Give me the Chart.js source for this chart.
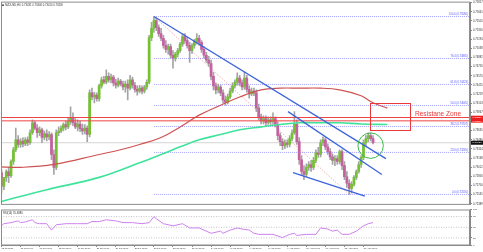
<!DOCTYPE html>
<html><head><meta charset="utf-8">
<script src="https://cdn.jsdelivr.net/npm/chart.js@4.4.1/dist/chart.umd.min.js"></script>
<style>
html,body{margin:0;padding:0;background:#fff;}
#wrap{position:relative;width:483px;height:252px;overflow:hidden;background:#fff}
#main{position:absolute;left:0;top:0}
#rsi{position:absolute;left:0;top:207px}
</style></head><body>
<div id="wrap"><canvas id="main" width="483" height="207"></canvas><canvas id="rsi" width="483" height="45"></canvas></div>
<script>
// ---- candle data (NZDUSD H4, bar index 0 = 12 Jul 2017 08:00) ----
const openP = [.7292,.7269,.7284,.7294,.7287,.7311,.7331,.7348,.7340,.7346,
.7341,.7348,.7343,.7360,.7377,.7368,.7360,.7365,.7352,.7358,
.7353,.7357,.7323,.7301,.7360,.7363,.7368,.7374,.7370,.7379,
.7385,.7377,.7370,.7375,.7367,.7363,.7368,.7357,.7428,.7421,
.7424,.7418,.7440,.7450,.7446,.7456,.7450,.7455,.7445,.7441,
.7448,.7443,.7438,.7443,.7436,.7450,.7441,.7434,.7431,.7436,
.7431,.7438,.7446,.7522,.7538,.7551,.7539,.7529,.7521,.7509,
.7502,.7507,.7492,.7487,.7494,.7500,.7511,.7524,.7517,.7509,
.7500,.7509,.7516,.7521,.7514,.7502,.7492,.7484,.7478,.7456,
.7440,.7433,.7438,.7428,.7416,.7412,.7421,.7431,.7440,.7446,
.7453,.7445,.7438,.7453,.7434,.7426,.7431,.7428,.7402,.7387,
.7380,.7384,.7377,.7382,.7379,.7384,.7374,.7355,.7345,.7338,
.7343,.7340,.7350,.7360,.7375,.7345,.7314,.7294,.7289,.7301,
.7306,.7301,.7313,.7326,.7323,.7343,.7348,.7336,.7328,.7319,
.7313,.7316,.7311,.7328,.7304,.7285,.7274,.7265,.7272,.7284,
.7294,.7306,.7318,.7343,.7350,.7355,.7350];
const highP = [.7297,.7275,.7297,.7301,.7314,.7335,.7368,.7355,.7350,.7352,
.7352,.7353,.7365,.7382,.7380,.7374,.7370,.7368,.7363,.7365,
.7362,.7360,.7331,.7365,.7370,.7372,.7377,.7380,.7385,.7404,
.7394,.7384,.7382,.7380,.7375,.7374,.7372,.7433,.7436,.7429,
.7428,.7443,.7455,.7456,.7467,.7462,.7460,.7458,.7451,.7453,
.7451,.7448,.7448,.7450,.7458,.7455,.7446,.7440,.7441,.7440,
.7441,.7450,.7526,.7548,.7558,.7556,.7544,.7538,.7526,.7517,
.7511,.7511,.7500,.7497,.7504,.7514,.7529,.7529,.7522,.7514,
.7512,.7519,.7529,.7526,.7517,.7507,.7497,.7490,.7484,.7463,
.7445,.7443,.7441,.7433,.7423,.7426,.7436,.7445,.7450,.7462,
.7458,.7450,.7463,.7458,.7440,.7436,.7436,.7433,.7409,.7392,
.7389,.7389,.7387,.7387,.7394,.7387,.7379,.7360,.7350,.7348,
.7348,.7355,.7365,.7396,.7382,.7352,.7321,.7304,.7307,.7311,
.7313,.7318,.7331,.7335,.7348,.7353,.7352,.7341,.7333,.7324,
.7321,.7321,.7331,.7331,.7311,.7294,.7280,.7277,.7287,.7297,
.7311,.7321,.7348,.7355,.7360,.7360,.7355];
const lowP = [.7258,.7263,.7277,.7275,.7284,.7306,.7328,.7335,.7335,.7336,
.7338,.7338,.7340,.7357,.7365,.7352,.7355,.7343,.7348,.7346,
.7348,.7314,.7289,.7297,.7355,.7360,.7363,.7365,.7367,.7374,
.7372,.7367,.7363,.7362,.7357,.7358,.7345,.7353,.7416,.7411,
.7414,.7414,.7436,.7443,.7443,.7446,.7445,.7440,.7436,.7438,
.7440,.7433,.7429,.7416,.7433,.7436,.7429,.7424,.7428,.7426,
.7428,.7434,.7443,.7517,.7531,.7534,.7524,.7517,.7504,.7497,
.7494,.7487,.7470,.7482,.7489,.7497,.7507,.7512,.7504,.7480,
.7495,.7504,.7511,.7509,.7497,.7487,.7480,.7473,.7450,.7433,
.7426,.7428,.7423,.7411,.7407,.7409,.7418,.7428,.7436,.7441,
.7440,.7433,.7434,.7429,.7419,.7423,.7423,.7396,.7382,.7375,
.7375,.7372,.7374,.7374,.7375,.7370,.7348,.7338,.7331,.7333,
.7335,.7336,.7346,.7357,.7340,.7306,.7287,.7280,.7285,.7296,
.7294,.7297,.7309,.7318,.7319,.7338,.7331,.7323,.7314,.7306,
.7304,.7306,.7307,.7297,.7280,.7267,.7255,.7257,.7269,.7280,
.7291,.7301,.7314,.7338,.7345,.7346,.7341];
const closeP = [.7269,.7284,.7294,.7287,.7311,.7331,.7348,.7340,.7346,.7341,
.7348,.7343,.7360,.7377,.7368,.7360,.7365,.7352,.7358,.7353,
.7357,.7323,.7301,.7360,.7363,.7368,.7374,.7370,.7379,.7385,
.7377,.7370,.7375,.7367,.7363,.7368,.7357,.7428,.7421,.7424,
.7418,.7440,.7450,.7446,.7456,.7450,.7455,.7445,.7441,.7448,
.7443,.7438,.7443,.7436,.7450,.7441,.7434,.7431,.7436,.7431,
.7438,.7446,.7522,.7538,.7551,.7539,.7529,.7521,.7509,.7502,
.7507,.7492,.7487,.7494,.7500,.7511,.7524,.7517,.7509,.7500,
.7509,.7516,.7521,.7514,.7502,.7492,.7484,.7478,.7456,.7440,
.7433,.7438,.7428,.7416,.7412,.7421,.7431,.7440,.7446,.7453,
.7445,.7438,.7453,.7434,.7426,.7431,.7428,.7402,.7387,.7380,
.7384,.7377,.7382,.7379,.7384,.7374,.7355,.7345,.7338,.7343,
.7340,.7350,.7360,.7375,.7345,.7314,.7294,.7289,.7301,.7306,
.7301,.7313,.7326,.7323,.7343,.7348,.7336,.7328,.7319,.7313,
.7316,.7311,.7328,.7304,.7285,.7274,.7265,.7272,.7284,.7294,
.7306,.7318,.7343,.7350,.7355,.7350,.7343];

// ---- moving averages (bar, price) ----
const maRedBars = [0, 8, 22, 41, 50, 58, 67, 75, 83, 92, 100, 109, 117, 125, 134, 142, 151, 156, 162];
const maRedVals = [.7302,.7301,.7306,.7323,.7331,.7340,.7352,.7370,.7390,.7407,.7421,.7433,.7436,.7436,.7436,.7433,.7423,.7411,.7402];
const maGreenBars = [0, 19, 41, 58, 67, 75, 83, 92, 100, 109, 117, 125, 134, 142, 151, 162];
const maGreenVals = [.7243,.7263,.7284,.7309,.7323,.7336,.7348,.7357,.7365,.7370,.7374,.7377,.7377,.7377,.7375,.7374];

// ---- trend lines (bar, price) ----
const trend1Bars = [64, 161.4], trend1Vals = [.7558, .7316];
const trend2Bars = [120.3, 159.7], trend2Vals = [.7396, .7289];
const trend3Bars = [122.4, 152.6], trend3Vals = [.7292, .7252];

// ---- fibonacci retracement ----
const fibStartBar = 64, fibEndBar = 146;
const fibLevels = [0.0, 23.6, 38.2, 50.0, 61.8, 76.4, 100.0];
const fibPrices = [0.72550, 0.73265, 0.73707, 0.74065, 0.74423, 0.74865, 0.75580];

// ---- resistance ----
const resLines = [0.73860, 0.73803];
const resBoxBars = [154.7, 171.5], resBoxPrices = [0.74110, 0.73650];
const resText = 'Resistane Zone', resTextBar = 173.6, resTextPrice = 0.7392;
const circleBar = 155, circlePrice = 0.7338;
const lastPrice = 0.73430;
const titleText = 'NZDUSD,H4  0.73431 0.73446 0.73410 0.73430';

// ---- axes ----
const priceTicks = [0.75817,0.75661,0.75505,0.75350,0.75194,0.75038,0.74882,0.74726,0.74570,0.74415,0.74259,0.74103,0.73947,0.73791,0.73635,0.73480,0.73324,0.73168,0.73012,0.72856,0.72700,0.72545,0.72389];
const xTickBars = [0,8,16,24,32,40,48,56,64,72,80,88,96,104,112,120,128,136,144,152];
const xTickLabels = ['12 Jul 2017','13 Jul 16:00','17 Jul 00:00','18 Jul 08:00','19 Jul 16:00','21 Jul 00:00','24 Jul 08:00','25 Jul 16:00','27 Jul 00:00','28 Jul 08:00','31 Jul 16:00','2 Aug 00:00','3 Aug 08:00','4 Aug 16:00','8 Aug 00:00','9 Aug 08:00','10 Aug 16:00','14 Aug 00:00','15 Aug 08:00','16 Aug 16:00'];

// ---- RSI(14) ----
const rsiBars = [0,1,4,7,8,10,13,14,16,19,21,23,27,32,36,38,41,44,48,51,55,59,62,64,65,68,72,76,79,83,88,92,93,96,99,101,104,106,108,114,118,121,123,124,128,132,134,137,139,141,143,146,149,152,154,156];
const rsiVals = [54,60,63,68,63,65,71,63,60,60,42,57,60,60,60,66,66,71,68,63,63,60,63,80,74,60,54,60,48,48,33,39,33,42,48,45,42,33,30,30,21,30,33,27,30,30,48,45,39,42,30,30,39,54,60,63];
const rsiLevels = [80, 50, 20];
const rsiTicks = [0, 20, 50, 80, 100];
const rsiTitle = 'RSI(14) 55.4880';

const X_MIN = -0.21, X_MAX = 196.72;
const Y_MIN = 0.72380, Y_MAX = 0.75817;
const FONT = 'Liberation Sans';

const bull = '#74c234', bear = '#c4629f', wickC = '#a4a4a4';

function seg(bars, vals) { return bars.map((b, i) => ({x: b, y: vals[i]})); }
function lineDs(data, color, width, dash, order, tension) {
  return {type: 'line', data, borderColor: color, borderWidth: width, borderDash: dash || [],
    pointRadius: 0, fill: false, order, tension: tension || 0};
}

const datasets = [];
fibPrices.forEach(p => datasets.push(lineDs([{x: fibStartBar, y: p}, {x: X_MAX, y: p}], 'rgba(100,100,255,0.6)', 1, [1, 1], 10)));
datasets.push(lineDs([{x: fibStartBar, y: fibPrices[6]}, {x: fibEndBar, y: fibPrices[0]}], 'rgba(225,90,90,0.6)', 1, [1, 1.5], 9));
datasets.push(lineDs([{x: X_MIN, y: lastPrice}, {x: X_MAX, y: lastPrice}], '#d4d4d4', 1, [], 11));
datasets.push({type: 'bar', data: closeP.map((c, i) => ({x: i, y: [lowP[i], highP[i]]})),
  backgroundColor: wickC, barThickness: 1, grouped: false, order: 6, borderWidth: 0});
datasets.push({type: 'bar', data: closeP.map((c, i) => ({x: i, y: [openP[i], c]})),
  backgroundColor: closeP.map((c, i) => c >= openP[i] ? bull : bear), barThickness: 2.1, grouped: false,
  minBarLength: 1, order: 5, borderWidth: 0});
resLines.forEach(p => datasets.push(lineDs([{x: X_MIN, y: p}, {x: X_MAX, y: p}], '#ef4444', 1, [], 3)));
datasets.push(lineDs(seg(maRedBars, maRedVals), '#cf5252', 1.2, [], 2, 0.4));
datasets.push(lineDs(seg(maGreenBars, maGreenVals), '#3fe39b', 1.6, [], 2, 0.4));
datasets.push(lineDs(seg(trend1Bars, trend1Vals), '#3d64dc', 1.3, [], 1));
datasets.push(lineDs(seg(trend2Bars, trend2Vals), '#3d64dc', 1.3, [], 1));
datasets.push(lineDs(seg(trend3Bars, trend3Vals), '#3d64dc', 1.3, [], 1));

const overlay = {
  id: 'overlay',
  afterDatasetsDraw(chart) {
    const {ctx, chartArea: a, scales: {x, y}} = chart;
    ctx.save();
    ctx.strokeStyle = '#8c8c8c'; ctx.lineWidth = 1;
    ctx.strokeRect(a.left + 0.5, a.top - 0.5, a.right - a.left - 1, a.bottom - a.top + 0.5);
    // fib labels
    ctx.font = '2.7px "' + FONT + '"';
    ctx.fillStyle = '#5555ff'; ctx.textAlign = 'right'; ctx.textBaseline = 'bottom';
    fibLevels.forEach((lv, k) => {
      ctx.fillText(lv.toFixed(1) + ' (' + fibPrices[k].toFixed(5) + ')', a.right - 2, y.getPixelForValue(fibPrices[k]) - 0.5);
    });
    // resistance box
    const bx1 = x.getPixelForValue(resBoxBars[0]), bx2 = x.getPixelForValue(resBoxBars[1]);
    const by1 = y.getPixelForValue(resBoxPrices[0]), by2 = y.getPixelForValue(resBoxPrices[1]);
    ctx.strokeStyle = '#e83a3a'; ctx.lineWidth = 1;
    ctx.strokeRect(Math.round(bx1) + 0.5, Math.round(by1) + 0.5, Math.round(bx2 - bx1), Math.round(by2 - by1));
    ctx.font = '6.6px "' + FONT + '"'; ctx.fillStyle = '#e83a3a'; ctx.textAlign = 'left'; ctx.textBaseline = 'middle';
    ctx.fillText(resText, x.getPixelForValue(resTextBar), y.getPixelForValue(resTextPrice));
    // green circle
    ctx.beginPath(); ctx.strokeStyle = '#3cb94a'; ctx.lineWidth = 1;
    ctx.arc(x.getPixelForValue(circleBar), y.getPixelForValue(circlePrice), 12.7, 0, Math.PI * 2); ctx.stroke();
    // axis price boxes
    const ry1 = y.getPixelForValue(resLines[0]) - 1.8, ry2 = y.getPixelForValue(resLines[1]) + 1.8;
    ctx.fillStyle = '#ee1c1c'; ctx.fillRect(a.right + 1, ry1, 13, ry2 - ry1);
    ctx.fillStyle = '#fff'; ctx.font = '2.5px "' + FONT + '"'; ctx.textAlign = 'left'; ctx.textBaseline = 'middle';
    ctx.fillText(resLines[0].toFixed(5), a.right + 2.5, y.getPixelForValue(resLines[0]));
    ctx.fillText(resLines[1].toFixed(5), a.right + 2.5, y.getPixelForValue(resLines[1]));
    const ly = y.getPixelForValue(lastPrice);
    ctx.fillStyle = '#111'; ctx.fillRect(a.right + 1, ly - 2, 13, 4);
    ctx.fillStyle = '#fff'; ctx.fillText(lastPrice.toFixed(5), a.right + 2.5, ly);
    // title
    ctx.fillStyle = '#333'; ctx.font = '2.7px "' + FONT + '"'; ctx.textBaseline = 'top';
    ctx.fillText(titleText, a.left + 4, a.top + 1.5);
    ctx.fillStyle = '#555'; ctx.fillRect(a.left + 1, a.top + 1.8, 2, 1.5);
    ctx.restore();
  }
};

new Chart(document.getElementById('main'), {
  type: 'bar',
  data: {datasets},
  options: {
    responsive: false, animation: false, devicePixelRatio: 1, events: [],
    layout: {padding: {left: 1, top: 2, right: 0, bottom: 2}},
    plugins: {legend: {display: false}, tooltip: {enabled: false}},
    scales: {
      x: {type: 'linear', display: false, min: X_MIN, max: X_MAX, offset: false, grid: {offset: false}},
      y: {type: 'linear', position: 'right', min: Y_MIN, max: Y_MAX,
        afterBuildTicks: s => { s.ticks = priceTicks.map(v => ({value: v})); },
        afterFit: s => { s.width = 13; },
        ticks: {font: {size: 2.7, family: FONT}, color: '#333', padding: 1, autoSkip: false, callback: v => v.toFixed(5)},
        grid: {display: true, drawOnChartArea: false, tickLength: 2, color: '#888'},
        border: {display: true, color: '#888'}}
    }
  },
  plugins: [overlay]
});

const rsiOverlay = {
  id: 'rsiOverlay',
  afterDatasetsDraw(chart) {
    const {ctx, chartArea: a} = chart;
    ctx.save();
    ctx.strokeStyle = '#8c8c8c'; ctx.lineWidth = 1;
    ctx.strokeRect(a.left + 0.5, a.top + 0.5, a.right - a.left - 1, a.bottom - a.top - 0.5);
    ctx.fillStyle = '#333'; ctx.font = '2.7px "' + FONT + '"'; ctx.textBaseline = 'top'; ctx.textAlign = 'left';
    ctx.fillText(rsiTitle, a.left + 2, a.top + 2);
    ctx.restore();
  }
};

const rsiDs = [lineDs(seg(rsiBars, rsiVals), '#cc82ec', 1, [], 1, 0)];
rsiLevels.forEach(l => rsiDs.push(lineDs([{x: X_MIN, y: l}, {x: X_MAX, y: l}], '#c4c4c4', 1, [1, 1.5], 5)));

new Chart(document.getElementById('rsi'), {
  type: 'line',
  data: {datasets: rsiDs},
  options: {
    responsive: false, animation: false, devicePixelRatio: 1, events: [],
    layout: {padding: {left: 1, top: 1, right: 0, bottom: 0}},
    plugins: {legend: {display: false}, tooltip: {enabled: false}},
    scales: {
      x: {type: 'linear', position: 'bottom', min: X_MIN, max: X_MAX, offset: false,
        afterBuildTicks: s => { s.ticks = xTickBars.map(v => ({value: v})); },
        afterFit: s => { s.height = 7; },
        ticks: {font: {size: 2.3, family: FONT}, color: '#333', align: 'start', maxRotation: 0, minRotation: 0,
          autoSkip: false, padding: 0, callback: (v, i) => xTickLabels[i]},
        grid: {display: true, drawOnChartArea: false, tickLength: 2, color: '#888'},
        border: {display: true, color: '#888'}},
      y: {type: 'linear', position: 'right', min: 0, max: 100,
        afterBuildTicks: s => { s.ticks = rsiTicks.map(v => ({value: v})); },
        afterFit: s => { s.width = 13; },
        ticks: {font: {size: 2.5, family: FONT}, color: '#333', padding: 1, autoSkip: false},
        grid: {display: true, drawOnChartArea: false, tickLength: 2, color: '#888'},
        border: {display: true, color: '#888'}}
    }
  },
  plugins: [rsiOverlay]
});
</script>
</body></html>
